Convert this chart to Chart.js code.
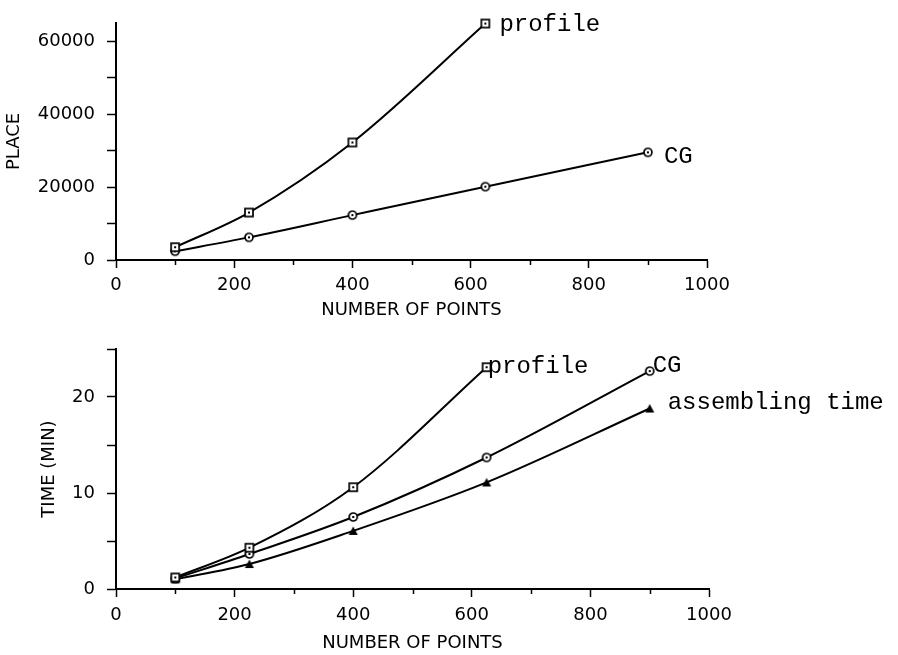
<!DOCTYPE html>
<html><head><meta charset="utf-8">
<script src="https://cdn.jsdelivr.net/npm/chart.js@4"></script>
<style>
html,body{margin:0;padding:0;background:#fff;width:898px;height:655px;overflow:hidden}
canvas{position:absolute;left:0}
#c1{top:0}
#c2{top:325px}
</style></head>
<body>
<canvas id="c1" width="898" height="325"></canvas>
<canvas id="c2" width="898" height="332"></canvas>
<script>
// ---- data ----
const profileX = [100, 225, 400, 625];
const cgX = [100, 225, 400, 625, 900];
const placeProfile = [3500, 13000, 32200, 64800];
const placeCG = [2400, 6200, 12300, 20100, 29500];
const timeProfile = [1.2, 4.3, 10.6, 23.1];
const timeCG = [1.1, 3.65, 7.5, 13.7, 22.7];
const timeAssembling = [1.0, 2.6, 6.05, 11.1, 18.8];
const xTicks = [0, 100, 200, 300, 400, 500, 600, 700, 800, 900, 1000];
const xTickLabels = ['0', '', '200', '', '400', '', '600', '', '800', '', '1000'];
const placeTicks = [0, 10000, 20000, 30000, 40000, 50000, 60000];
const placeTickLabels = ['0', '', '20000', '', '40000', '', '60000'];
const timeTicks = [0, 5, 10, 15, 20, 25];
const timeTickLabels = ['0', '', '10', '', '20', ''];

const axisFont = {family: 'DejaVu Sans', size: 18};
const noteFont = '24px "Liberation Mono"';

function marker(kind) {
  const c = document.createElement('canvas');
  c.width = c.height = 12;
  const g = c.getContext('2d');
  g.strokeStyle = '#000'; g.fillStyle = '#fff'; g.lineWidth = 1.7;
  if (kind === 'square') {
    g.fillRect(2, 2, 8, 8); g.strokeRect(2, 2, 8, 8);
    g.fillStyle = '#000'; g.fillRect(5, 5, 2, 2);
  } else if (kind === 'circle') {
    g.beginPath(); g.arc(6, 6, 4, 0, Math.PI * 2); g.fill(); g.stroke();
    g.fillStyle = '#000'; g.fillRect(5, 5, 2, 2);
  } else {
    g.fillStyle = '#000';
    g.beginPath(); g.moveTo(6, 1.5); g.lineTo(10.5, 10); g.lineTo(1.5, 10); g.closePath(); g.fill();
  }
  return c;
}
const sq = marker('square'), ci = marker('circle'), tri = marker('tri');

function pts(xs, ys) { return ys.map((y, i) => ({x: xs[i], y})); }

function ds(data, style) {
  return {data, showLine: true, borderColor: '#000', borderWidth: 2,
    cubicInterpolationMode: 'monotone', pointStyle: style, pointRadius: 5,
    pointHoverRadius: 5, clip: false};
}

const notePlugin = {
  id: 'notes',
  afterDatasetsDraw(chart, args, opts) {
    const ctx = chart.ctx;
    ctx.save();
    ctx.font = noteFont; ctx.fillStyle = '#000';
    ctx.textBaseline = 'middle'; ctx.textAlign = 'left';
    (opts.items || []).forEach(it => {
      const d = chart.getDatasetMeta(it.ds).data;
      const p = d[d.length - 1];
      ctx.fillText(it.text, p.x + it.dx, p.y + it.dy);
    });
    ctx.restore();
  }
};

// short minor ticks on the x axis (values with empty labels)
const minorTickPlugin = {
  id: 'minorTicks',
  afterDraw(chart) {
    const s = chart.scales.x, ctx = chart.ctx;
    ctx.save();
    ctx.strokeStyle = '#000'; ctx.lineWidth = 1.5;
    xTicks.forEach((v, i) => {
      if (xTickLabels[i] !== '') return;
      const px = Math.round(s.getPixelForValue(v)) + 0.5;
      ctx.beginPath(); ctx.moveTo(px, s.top); ctx.lineTo(px, s.top + 5); ctx.stroke();
    });
    ctx.restore();
  }
};

function scales(yTicks, yLabels, yMax, yTitle, yTitlePad, xHeight, xTitlePad, xTickPad) {
  return {
    x: {
      type: 'linear', min: 0, max: 1000,
      afterBuildTicks: s => { s.ticks = xTicks.map(v => ({value: v})); },
      afterFit: s => { s.height = xHeight; },
      ticks: {autoSkip: false, maxRotation: 0, color: '#000', font: axisFont, padding: xTickPad,
        callback: (v) => xTickLabels[xTicks.indexOf(v)]},
      grid: {drawOnChartArea: false, drawTicks: true, tickLength: 8, tickWidth: 1.5,
        color: (c) => (c.tick && xTickLabels[xTicks.indexOf(c.tick.value)] === '') ? 'rgba(0,0,0,0)' : '#000'},
      border: {color: '#000', width: 2},
      title: {display: true, text: 'NUMBER OF POINTS', color: '#000', font: axisFont,
        padding: {top: 0, bottom: xTitlePad}}
    },
    y: {
      type: 'linear', min: 0, max: yMax,
      afterBuildTicks: s => { s.ticks = yTicks.map(v => ({value: v})); },
      afterFit: s => { s.width = 116; },
      ticks: {autoSkip: false, color: '#000', font: axisFont, padding: 12,
        callback: (v) => yLabels[yTicks.indexOf(v)]},
      grid: {drawOnChartArea: false, drawTicks: true, tickLength: 9, color: '#000', tickWidth: 1.5},
      border: {color: '#000', width: 2},
      title: {display: true, text: yTitle, color: '#000', font: axisFont,
        padding: {top: yTitlePad, bottom: 0}}
    }
  };
}

const common = {
  responsive: false, devicePixelRatio: 1, animation: false,
  plugins: {legend: {display: false}, tooltip: {enabled: false}}
};

new Chart(document.getElementById('c1'), {
  type: 'scatter',
  data: {datasets: [ds(pts(profileX, placeProfile), sq), ds(pts(cgX, placeCG), ci)]},
  options: Object.assign({}, common, {
    layout: {padding: {top: 17, right: 191, left: 0, bottom: 0}},
    scales: scales(placeTicks, placeTickLabels, 65000, 'PLACE', 4, 65, 4, 7),
    plugins: Object.assign({}, common.plugins, {notes: {items: [
      {ds: 0, text: 'profile', dx: 14, dy: 1},
      {ds: 1, text: 'CG', dx: 16, dy: 4}
    ]}})
  }),
  plugins: [notePlugin, minorTickPlugin]
});

new Chart(document.getElementById('c2'), {
  type: 'scatter',
  data: {datasets: [ds(pts(profileX, timeProfile), sq), ds(pts(cgX, timeCG), ci), ds(pts(cgX, timeAssembling), tri)]},
  options: Object.assign({}, common, {
    layout: {padding: {top: 24, right: 189, left: 0, bottom: 0}},
    scales: scales(timeTicks, timeTickLabels, 25, 'TIME (MIN)', 39, 68, 3, 8),
    plugins: Object.assign({}, common.plugins, {notes: {items: [
      {ds: 0, text: 'profile', dx: 1, dy: -1},
      {ds: 1, text: 'CG', dx: 3, dy: -5},
      {ds: 2, text: 'assembling time', dx: 18, dy: -6}
    ]}})
  }),
  plugins: [notePlugin, minorTickPlugin]
});
</script>
</body></html>
